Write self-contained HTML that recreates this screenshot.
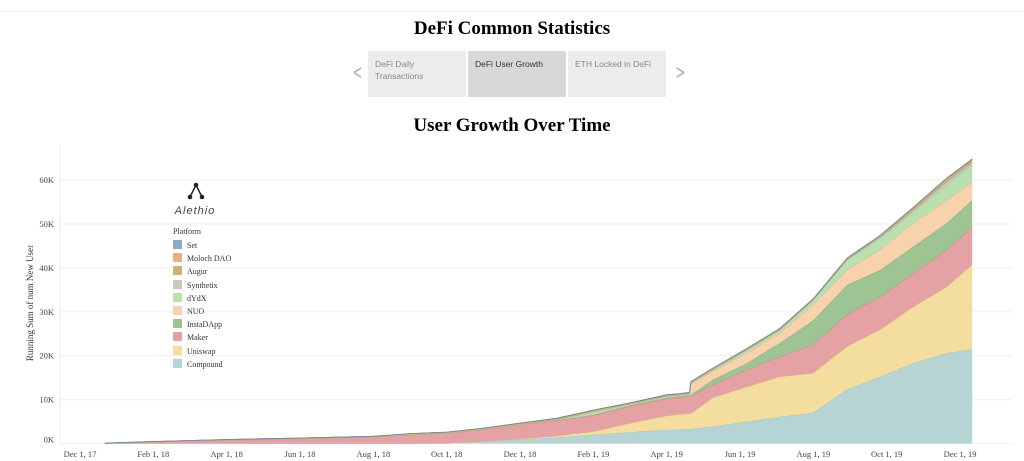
<!DOCTYPE html>
<html><head><meta charset="utf-8"><style>
body{margin:0;background:#fff;width:1024px;height:461px;overflow:hidden;font-family:"Liberation Serif",serif;position:relative}
.abs{position:absolute}
.tab{position:absolute;top:51px;width:98px;height:46px;background:#ececec;font-family:"Liberation Sans",sans-serif;font-size:8.5px;color:#888;box-sizing:border-box;padding:7px 7px;line-height:12px}
.leg{position:absolute;left:173px;font-size:8px;color:#333;height:12px;line-height:10px}
.leg i{display:inline-block;width:9px;height:9px;vertical-align:-1px;margin-right:5px}
</style></head><body>
<div class="abs" style="left:0;top:11px;width:1024px;height:1px;background:#f0f0f0"></div>
<div class="abs" style="left:0;width:1024px;top:18px;text-align:center;font-weight:bold;font-size:19px">DeFi Common Statistics</div>
<div class="abs" style="left:349px;top:60px;font-family:'DejaVu Sans',sans-serif;font-size:20px;color:#aaa;transform:scaleX(.6)">&lt;</div>
<div class="tab" style="left:368px">DeFi Daily<br>Transactions</div>
<div class="tab" style="left:468px;background:#d8d8d8;color:#333">DeFi User Growth</div>
<div class="tab" style="left:568px">ETH Locked in DeFi</div>
<div class="abs" style="left:672px;top:60px;font-family:'DejaVu Sans',sans-serif;font-size:20px;color:#aaa;transform:scaleX(.6)">&gt;</div>
<div class="abs" style="left:0;width:1024px;top:115px;text-align:center;font-weight:bold;font-size:19px">User Growth Over Time</div>
<svg class="abs" style="left:0;top:0" width="1024" height="461" id="chart">
<text transform="translate(33,303) rotate(-90)" text-anchor="middle" font-size="9" fill="#333" font-family="Liberation Serif">Running Sum of num New User</text>
<line x1="60" y1="145" x2="60" y2="445" stroke="#eee"/>
<g id="grid"></g><g id="areas"></g><g id="xt"></g>
<g>
<line x1="196" y1="185" x2="190" y2="197" stroke="#223" stroke-width="1.5"/><line x1="196" y1="185" x2="202" y2="197" stroke="#223" stroke-width="1.5"/>
<circle cx="196" cy="185" r="2.3" fill="#223"/><circle cx="190" cy="197" r="2.3" fill="#223"/><circle cx="202" cy="197" r="2.3" fill="#223"/>
<text x="195" y="214" text-anchor="middle" font-family="Liberation Sans" font-size="11" font-style="italic" fill="#445" letter-spacing="1">Alethio</text>
</g>
</svg>
<div class="leg" style="top:227px">Platform</div>
<div id="legend"></div>
<script>
const dates=[0.68,2,4,6,8,9,10,11,12,13,14,15,16,16.36,16.62,16.66,17.26,18.19,19.09,19.99,20.92,21.82,22.72,23.64,24.33];
const compound=[0,0,0,0,0,0,0.05,0.4,0.9,1.4,2.0,2.6,3.1,3.2,3.3,3.3,3.9,5.0,6.1,7.0,12.3,15.2,18.3,20.6,21.5];
const uniswap=[0,0,0,0,0,0,0,0.05,0.1,0.3,0.7,2.0,3.2,3.4,3.5,3.5,6.5,7.9,9.1,9.0,9.8,10.7,12.8,15.1,19.2];
const maker=[0.05,0.35,0.75,1.1,1.45,1.95,2.25,2.75,3.3,3.5,3.7,3.9,3.9,3.9,4.0,4.0,3.0,3.9,4.6,6.5,7.3,7.5,7.7,8.4,8.6];
const instadapp=[0,0,0,0,0,0,0,0,0,0.1,0.2,0.3,0.3,0.2,0.2,0.3,1.1,1.5,3.1,5.5,6.7,6.1,6.0,6.1,6.1];
const nuo=[0,0,0,0,0,0,0,0,0,0,0,0,0,0.1,0.1,2.4,1.9,2.3,2.3,3.5,3.4,4.6,5.4,5.2,4.1];
const dydx=[0,0,0,0,0,0,0,0,0,0.1,0.6,0.2,0.3,0.2,0.2,0.3,0.4,0.7,0.7,1.1,2.3,2.7,2.5,3.5,3.8];
const synthetix=[0,0,0,0,0,0,0,0,0,0,0,0,0,0,0,0,0,0,0,0,0.1,0.2,0.4,0.7,0.7];
const augur=[0.03,0.1,0.15,0.15,0.2,0.3,0.3,0.3,0.35,0.35,0.4,0.25,0.3,0.35,0.35,0.3,0.35,0.35,0.35,0.3,0.3,0.35,0.5,0.7,0.6];
const moloch=[0,0,0,0,0,0,0,0,0,0,0,0,0,0,0,0,0,0,0,0,0,0.05,0.1,0.1,0.1];
const setp=[0,0,0,0,0,0,0,0,0,0,0,0,0,0,0,0,0,0,0,0,0,0,0.05,0.1,0.1];
const yTicks=[0,10,20,30,40,50,60];
const xTickLabels=["Dec 1, 17","Feb 1, 18","Apr 1, 18","Jun 1, 18","Aug 1, 18","Oct 1, 18","Dec 1, 18","Feb 1, 19","Apr 1, 19","Jun 1, 19","Aug 1, 19","Oct 1, 19","Dec 1, 19"];
const xTickMonths=[0,2,4,6,8,10,12,14,16,18,20,22,24];
const seriesNames=["Compound","Uniswap","Maker","InstaDApp","NUO","dYdX","Synthetix","Augur","Moloch DAO","Set"];
const seriesData=[compound,uniswap,maker,instadapp,nuo,dydx,synthetix,augur,moloch,setp];
const fills=["#b5d4d3","#f3dea0","#e4a2a4","#9dc492","#f8d2ac","#badfb1","#cbc8c3","#c8b476","#f0ae79","#8fa9c4"];
const strokes=["#9cc3c2","#e5cc86","#c98487","#7fa975","#e8b98e","#9cc694","#aaa","#a89558","#d08f5b","#6d87a3"];
const NS="http://www.w3.org/2000/svg";
const x=m=>80+m*36.67, y=v=>443.5-v*4.39;
const grid=document.getElementById('grid');
yTicks.forEach(t=>{
 const l=document.createElementNS(NS,'line');l.setAttribute('x1',60);l.setAttribute('x2',1012);l.setAttribute('y1',y(t));l.setAttribute('y2',y(t));l.setAttribute('stroke','#efefef');
 
 
 grid.appendChild(l);
 const tx=document.createElementNS(NS,'text');tx.setAttribute('x',54);tx.setAttribute('y',y(t)+(t===0?-1:3));tx.setAttribute('text-anchor','end');tx.setAttribute('font-size','8.5');tx.setAttribute('fill','#444');tx.textContent=t+'K';
 
 
 grid.appendChild(tx);
});
const xt=document.getElementById('xt');
xTickLabels.forEach((s,i)=>{
 const tx=document.createElementNS(NS,'text');tx.setAttribute('x',x(xTickMonths[i]));tx.setAttribute('y',457);tx.setAttribute('text-anchor','middle');tx.setAttribute('font-size','8.5');tx.setAttribute('fill','#444');tx.textContent=s;
 
 
 xt.appendChild(tx);
});
const areas=document.getElementById('areas');
let base=dates.map(()=>0);
seriesData.forEach((arr,k)=>{
 const top=base.map((b,i)=>b+arr[i]);
 let d='M'+dates.map((m,i)=>x(m).toFixed(1)+','+y(top[i]).toFixed(1)).join('L');
 for(let i=dates.length-1;i>=0;i--) d+='L'+x(dates[i]).toFixed(1)+','+y(base[i]).toFixed(1);
 d+='Z';
 const p=document.createElementNS(NS,'path');p.setAttribute('d',d);p.setAttribute('fill',fills[k]);
 
 
 areas.appendChild(p);
 const l=document.createElementNS(NS,'path');l.setAttribute('d','M'+dates.map((m,i)=>x(m).toFixed(1)+','+y(top[i]).toFixed(1)).join('L'));l.setAttribute('fill','none');l.setAttribute('stroke',strokes[k]);l.setAttribute('stroke-width','0.8');
 
 
 areas.appendChild(l);
 base=top;
});
const leg=document.getElementById('legend');
for(let k=seriesNames.length-1,j=0;k>=0;k--,j++){
 const d=document.createElement('div');d.className='leg';d.style.top=(240+j*13.2)+'px';
 d.innerHTML='<i style="background:'+fills[k]+'"></i>'+seriesNames[k];
 
 
 leg.appendChild(d);
}
</script>
</body></html>
